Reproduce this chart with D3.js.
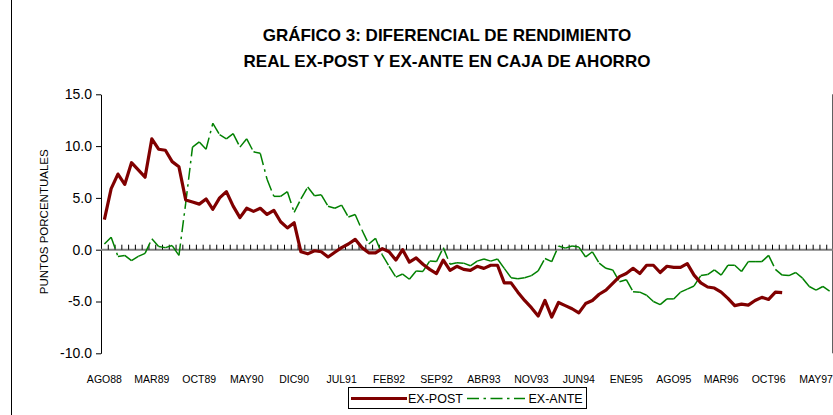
<!DOCTYPE html>
<html><head><meta charset="utf-8">
<script src="https://cdn.jsdelivr.net/npm/d3@7"></script>
<style>body{margin:0;background:#fff}svg{display:block;font-family:"Liberation Sans",Arial,sans-serif}</style>
</head><body><svg id="c" width="833" height="415"></svg>
<script>
const titleLines = ["GRÁFICO 3: DIFERENCIAL DE RENDIMIENTO", "REAL EX-POST Y EX-ANTE EN CAJA DE AHORRO"];
const yTitle = "PUNTOS PORCENTUALES";
const monthNames = ["ENE","FEB","MAR","ABR","MAY","JUN","JUL","AGO","SEP","OCT","NOV","DIC"];
// monthly categories, AGO88 .. JUL97
const categories = d3.range(108).map(i => { const m = (7 + i) % 12, y = 88 + Math.floor((7 + i) / 12); return monthNames[m] + y; });
const tickLabels = ["AGO88","MAR89","OCT89","MAY90","DIC90","JUL91","FEB92","SEP92","ABR93","NOV93","JUN94","ENE95","AGO95","MAR96","OCT96","MAY97"];
const yTicks = [-10, -5, 0, 5, 10, 15];
const exPost = [2.9,5.9,7.3,6.3,8.4,7.7,7.0,10.7,9.7,9.6,8.5,8.0,4.8,4.6,4.4,4.9,3.9,5.0,5.6,4.2,3.1,4.0,
  3.7,4.0,3.4,3.8,2.7,2.1,2.6,-0.2,-0.4,-0.1,-0.2,-0.7,-0.25,0.2,0.55,1.0,0.2,-0.3,-0.3,0.1,-0.2,-1.0,
  0.0,-1.2,-0.8,-1.4,-1.9,-2.3,-1.0,-2.0,-1.6,-1.9,-2.0,-1.6,-1.8,-1.5,-1.5,-3.2,-3.2,-4.1,-4.9,-5.6,-6.4,-4.9,
  -6.5,-5.1,-5.4,-5.7,-6.1,-5.2,-4.9,-4.3,-3.9,-3.25,-2.6,-2.3,-1.8,-2.3,-1.5,-1.5,-2.2,-1.6,-1.7,-1.7,-1.35,
  -2.45,-3.2,-3.6,-3.7,-4.1,-4.7,-5.4,-5.25,-5.35,-4.9,-4.6,-4.8,-4.1,-4.15];
const exAnte = [0.55,1.2,-0.65,-0.55,-1.05,-0.65,-0.35,1.05,0.3,0.2,0.4,-0.55,4.5,9.9,10.4,9.7,12.2,11.1,10.7,11.2,9.9,10.7,
  9.45,9.3,6.8,5.15,5.15,5.6,3.6,4.9,6.05,5.2,5.3,4.2,4.0,4.3,3.15,3.4,1.9,0.55,1.1,-0.5,-1.6,-2.65,
  -2.35,-2.85,-2.05,-2.1,-1.1,-1.15,0.2,-1.4,-1.25,-1.3,-1.55,-1.1,-0.9,-1.1,-0.9,-1.8,-2.7,-2.8,-2.7,-2.5,-2.05,-0.85,
  -1.15,0.35,0.15,0.35,0.25,-0.7,-0.2,-1.3,-1.8,-1.95,-3.1,-2.9,-4.05,-4.1,-4.4,-5.0,-5.3,-4.75,-4.75,-4.1,-3.8,
  -3.5,-2.5,-2.4,-1.95,-2.45,-1.5,-1.5,-2.1,-1.15,-1.15,-1.15,-0.55,-1.9,-2.45,-2.5,-2.2,-2.75,-3.55,-3.9,-3.55,-4.0];
const seriesNames = ["EX-POST", "EX-ANTE"];

const svg = d3.select("#c");
const L = 101, R = 833, T = 94.3, B = 353.3;
const x = d3.scaleBand().domain(categories).range([L, R]).padding(0);
const y = d3.scaleLinear().domain([-10, 15]).range([B, T]);
const cx = c => x(c) + x.bandwidth() / 2;

// outer frame lines
svg.append("line").attr("x1", 11.5).attr("x2", 11.5).attr("y1", 0).attr("y2", 415).attr("stroke", "#000");
svg.append("line").attr("x1", 832.5).attr("x2", 832.5).attr("y1", T).attr("y2", B).attr("stroke", "#606060");

// title
svg.append("g").selectAll("text").data(titleLines).join("text")
  .attr("x", 447).attr("y", (d, i) => 41 + i * 25.5).attr("text-anchor", "middle")
  .attr("font-size", 17).attr("font-weight", "bold").text(d => d);

// y axis
const yAx = svg.append("g").attr("transform", `translate(${L},0)`)
  .call(d3.axisLeft(y).tickValues(yTicks).tickFormat(d => d.toFixed(1)).tickSize(5).tickSizeOuter(0).tickPadding(4));
yAx.selectAll("text").attr("font-size", 14).attr("font-family", "Liberation Sans, Arial").attr("fill", "#000");
yAx.select(".domain").attr("stroke", "#000");
yAx.selectAll(".tick line").attr("stroke", "#000");

svg.append("text").attr("transform", `translate(48,${(T + B) / 2 - 2}) rotate(-90)`)
  .attr("text-anchor", "middle").attr("font-size", 11.5).text(yTitle);

// zero line with category ticks
svg.append("line").attr("x1", L).attr("x2", R).attr("y1", y(0)).attr("y2", y(0)).attr("stroke", "#808080").attr("stroke-width", 2);
svg.append("g").selectAll("line").data(categories.slice(1)).join("line")
  .attr("x1", d => x(d) + 0.5).attr("x2", d => x(d) + 0.5)
  .attr("y1", y(0) - 5).attr("y2", y(0)).attr("stroke", "#000").attr("stroke-width", 1);

// x labels
const xAx = svg.append("g").attr("transform", `translate(0,368)`)
  .call(d3.axisBottom(x).tickValues(tickLabels).tickSize(0).tickPadding(8));
xAx.select(".domain").remove();
xAx.selectAll("text").attr("font-size", 10.5).attr("font-family", "Liberation Sans, Arial").attr("fill", "#000");

// EX-ANTE: dash pattern restarts on every segment
const line = d3.line().x(d => cx(d[0])).y(d => y(d[1]));
const anteSegs = d3.pairs(exAnte.map((v, i) => [categories[i], v]));
svg.append("g").selectAll("path").data(anteSegs).join("path")
  .attr("d", d => line(d)).attr("fill", "none").attr("stroke", "#008000")
  .attr("stroke-width", 1.5).attr("stroke-dasharray", "12,4.5,2.5,4.5");

// EX-POST
svg.append("path").datum(exPost.map((v, i) => [categories[i], v]))
  .attr("d", line).attr("fill", "none").attr("stroke", "#800000")
  .attr("stroke-width", 3.2).attr("stroke-linejoin", "round");

// legend
const lg = svg.append("g");
lg.append("rect").attr("x", 348.5).attr("y", 387.5).attr("width", 238).attr("height", 21)
  .attr("fill", "#fff").attr("stroke", "#000");
lg.append("line").attr("x1", 351).attr("x2", 407).attr("y1", 398.5).attr("y2", 398.5)
  .attr("stroke", "#800000").attr("stroke-width", 3.2);
lg.append("line").attr("x1", 467).attr("x2", 525).attr("y1", 398.5).attr("y2", 398.5)
  .attr("stroke", "#008000").attr("stroke-width", 1.5).attr("stroke-dasharray", "12,4.5,2.5,4.5");
lg.selectAll("text").data(seriesNames).join("text")
  .attr("x", (d, i) => i ? 528.5 : 408).attr("y", 403).attr("font-size", 12.5).text(d => d);
</script></body></html>
